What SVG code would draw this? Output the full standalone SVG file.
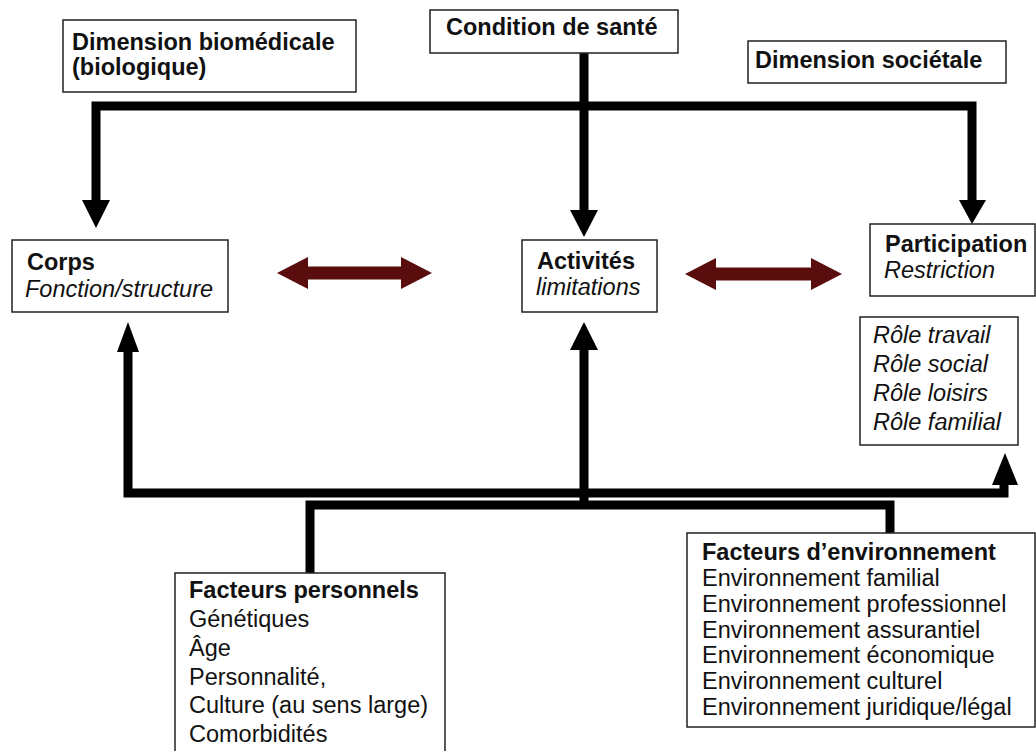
<svg xmlns="http://www.w3.org/2000/svg" width="1036" height="751" viewBox="0 0 1036 751">
<style>
.box{fill:#fff;stroke:#222;stroke-width:1.5}
text{font-family:"Liberation Sans",Arial,sans-serif;font-size:23.5px;fill:#111}
.b{font-weight:bold}
.i{font-style:italic}
.ln{fill:none;stroke:#000;stroke-width:9;stroke-linejoin:miter;stroke-linecap:butt}
.ah{fill:#000}
.dbl{fill:#5a0d0d}
</style>
<rect width="1036" height="751" fill="#fff"/>
<g id="connectors">
<polyline class="ln" points="96,200 96,106 972,106 972,200"/>
<line class="ln" x1="584" y1="53" x2="584" y2="210"/>
<polygon class="ah" points="82,200 110,200 96,228"/>
<polygon class="ah" points="570,210 598,210 584,237"/>
<polygon class="ah" points="959,200 986,200 972,224"/>
<polyline class="ln" points="128,352 128,493 1004,493 1004,485"/>
<polygon class="ah" points="117,352 139,352 128,322"/>
<line class="ln" x1="584" y1="509" x2="584" y2="350"/>
<polygon class="ah" points="570,350 598,350 584,322"/>
<polygon class="ah" points="992,485 1018,485 1005,453"/>
<polyline class="ln" points="310,573 310,505 890,505 890,533"/>
<polygon class="dbl" points="277,273 308,257 308,266.5 401,266.5 401,257 432,273 401,289 401,279.5 308,279.5 308,289"/>
<polygon class="dbl" points="685,274 716,258 716,267.5 811,267.5 811,258 842,274 811,290 811,280.5 716,280.5 716,290"/>
</g>
<g id="dim-bio">
<rect class="box" x="63" y="20" width="293" height="72"/>
<text class="b" x="72" y="50">Dimension biomédicale</text>
<text class="b" x="72" y="75">(biologique)</text>
</g>
<g id="condition">
<rect class="box" x="430" y="10" width="248" height="43"/>
<text class="b" x="446" y="35">Condition de santé</text>
</g>
<g id="dim-soc">
<rect class="box" x="748" y="41" width="258" height="42"/>
<text class="b" x="755" y="68">Dimension sociétale</text>
</g>
<g id="corps">
<rect class="box" x="12" y="240" width="216" height="72"/>
<text class="b" x="27" y="270">Corps</text>
<text class="i" x="25" y="297">Fonction/structure</text>
</g>
<g id="activites">
<rect class="box" x="522" y="240" width="135" height="72"/>
<text class="b" x="537" y="269">Activités</text>
<text class="i" x="536" y="295">limitations</text>
</g>
<g id="participation">
<rect class="box" x="870" y="224" width="165" height="72"/>
<text class="b" x="885" y="252">Participation</text>
<text class="i" x="884" y="278">Restriction</text>
</g>
<g id="roles">
<rect class="box" x="860" y="317" width="158" height="128"/>
<text class="i" x="873" y="343">Rôle travail</text>
<text class="i" x="873" y="372">Rôle social</text>
<text class="i" x="873" y="401">Rôle loisirs</text>
<text class="i" x="873" y="430">Rôle familial</text>
</g>
<g id="fact-perso">
<rect class="box" x="175" y="573" width="270" height="180"/>
<text class="b" x="189" y="598">Facteurs personnels</text>
<text x="189" y="627">Génétiques</text>
<text x="189" y="656">Âge</text>
<text x="189" y="685">Personnalité,</text>
<text x="189" y="713">Culture (au sens large)</text>
<text x="189" y="742">Comorbidités</text>
</g>
<g id="fact-env">
<rect class="box" x="687" y="533" width="348" height="194"/>
<text class="b" x="702" y="560">Facteurs d’environnement</text>
<text x="702" y="586">Environnement familial</text>
<text x="702" y="612">Environnement professionnel</text>
<text x="702" y="638">Environnement assurantiel</text>
<text x="702" y="663">Environnement économique</text>
<text x="702" y="689">Environnement culturel</text>
<text x="702" y="715">Environnement juridique/légal</text>
</g>
</svg>
